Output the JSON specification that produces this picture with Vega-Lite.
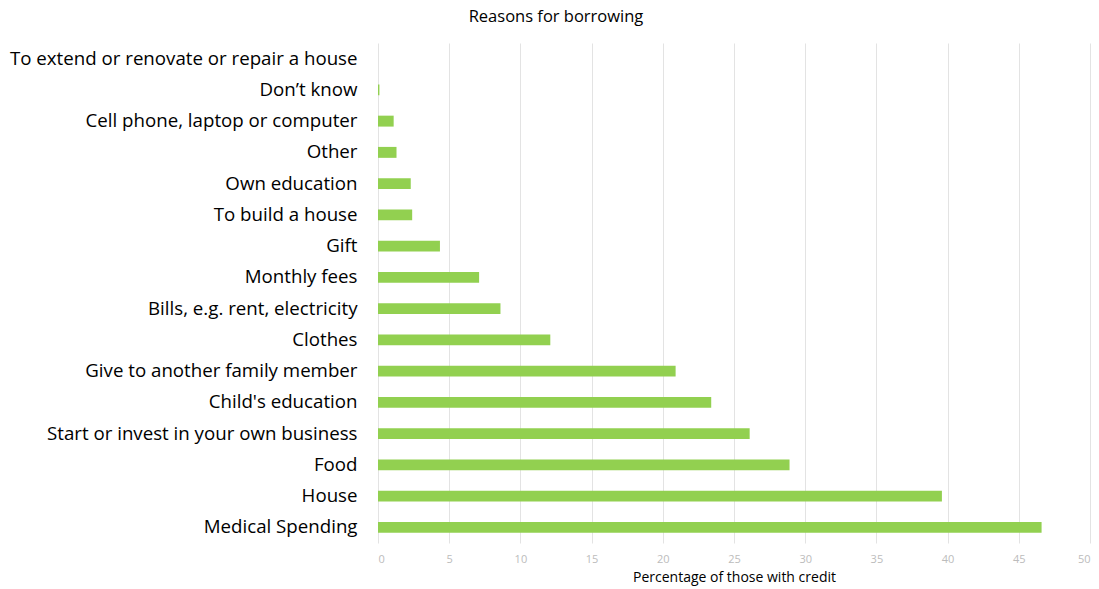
{
  "$schema": "https://vega.github.io/schema/vega-lite/v6.json",
  "autosize": {"type": "none"},
  "width": 712,
  "height": 500,
  "padding": {"left": 378, "top": 43, "right": 9, "bottom": 46},
  "background": "white",
  "title": {
    "text": "Reasons for borrowing",
    "font": "Open Sans",
    "fontSize": 16.5,
    "fontWeight": "normal",
    "color": "#000000",
    "anchor": "middle",
    "frame": "group",
    "dx": -178,
    "offset": 18
  },
  "data": {
    "values": [
      {"reason": "To extend or renovate or repair a house", "pct": 0},
      {"reason": "Don’t know", "pct": 0.1},
      {"reason": "Cell phone, laptop or computer", "pct": 1.1},
      {"reason": "Other", "pct": 1.3},
      {"reason": "Own education", "pct": 2.3},
      {"reason": "To build a house", "pct": 2.4},
      {"reason": "Gift", "pct": 4.35},
      {"reason": "Monthly fees", "pct": 7.1},
      {"reason": "Bills, e.g. rent, electricity", "pct": 8.6},
      {"reason": "Clothes", "pct": 12.1},
      {"reason": "Give to another family member", "pct": 20.9},
      {"reason": "Child's education", "pct": 23.4},
      {"reason": "Start or invest in your own business", "pct": 26.1},
      {"reason": "Food", "pct": 28.9},
      {"reason": "House", "pct": 39.6},
      {"reason": "Medical Spending", "pct": 46.6}
    ]
  },
  "mark": {"type": "bar", "color": "#92d050"},
  "encoding": {
    "y": {
      "field": "reason",
      "type": "nominal",
      "sort": null,
      "scale": {"paddingInner": 0.65, "paddingOuter": 0.325},
      "axis": {
        "title": null,
        "domain": false,
        "ticks": false,
        "labelFont": "Open Sans",
        "labelFontSize": 18.7,
        "labelColor": "#000000",
        "labelPadding": 21,
        "labelLimit": 400
      }
    },
    "x": {
      "field": "pct",
      "type": "quantitative",
      "scale": {"domain": [0, 50]},
      "axis": {
        "title": "Percentage of those with credit",
        "titleFont": "Open Sans",
        "titleFontSize": 14,
        "titleFontWeight": "normal",
        "titleColor": "#000000",
        "titlePadding": 6,
        "values": [0, 5, 10, 15, 20, 25, 30, 35, 40, 45, 50],
        "domain": false,
        "ticks": false,
        "grid": true,
        "gridColor": "#e3e3e3",
        "labelFont": "Open Sans",
        "labelFontSize": 11,
        "labelColor": "#bcbcbc",
        "labelPadding": 10
      }
    }
  },
  "config": {"view": {"stroke": null}}
}
